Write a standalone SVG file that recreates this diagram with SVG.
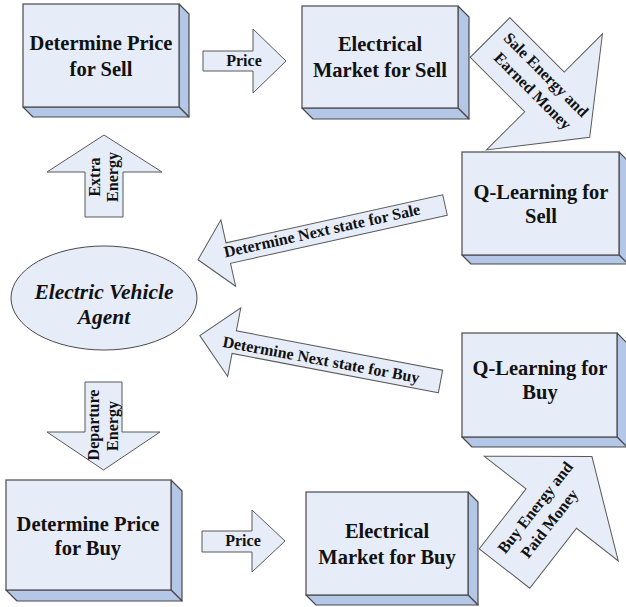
<svg xmlns="http://www.w3.org/2000/svg" width="626" height="607" viewBox="0 0 626 607">
<style>
.front{fill:#e6ecf8;stroke:#4a4a4a;stroke-width:1.2}
.side{fill:#b4c7e7;stroke:#4a4a4a;stroke-width:1.2;stroke-linejoin:round}
.arr{fill:#e6ecf8;stroke:#595959;stroke-width:1}
.t{font-family:"Liberation Serif","Times New Roman",serif;font-weight:bold;fill:#111;text-anchor:middle}
.big{font-size:20.5px}
.sm{font-size:16px}
.it{font-style:italic;font-size:21.5px}
</style>
<rect width="626" height="607" fill="#fff"/>

<g id="det-sell">
<polygon class="side" points="179,4 189,14 189,117 179,107"/>
<polygon class="side" points="23,107 179,107 189,117 33,117"/>
<rect class="front" x="23" y="4" width="156" height="103"/>
<text class="t big" x="101" y="50">Determine Price</text>
<text class="t big" x="101" y="76">for Sell</text>
</g>

<g id="market-sell">
<polygon class="side" points="458,6 469,17 469,119 458,108"/>
<polygon class="side" points="302,108 458,108 469,119 313,119"/>
<rect class="front" x="302" y="6" width="156" height="102"/>
<text class="t big" x="380" y="51">Electrical</text>
<text class="t big" x="380" y="77">Market for Sell</text>
</g>

<g id="q-sell">
<polygon class="side" points="619,152 628,161 628,264 619,255"/>
<polygon class="side" points="462,255 619,255 628,264 471,264"/>
<rect class="front" x="462" y="152" width="157" height="103"/>
<text class="t big" x="541" y="199">Q-Learning for</text>
<text class="t big" x="541" y="223">Sell</text>
</g>

<g id="q-buy">
<polygon class="side" points="617,333 627,343 627,447 617,437"/>
<polygon class="side" points="462,437 617,437 627,447 472,447"/>
<rect class="front" x="462" y="333" width="155" height="104"/>
<text class="t big" x="540" y="375">Q-Learning for</text>
<text class="t big" x="540" y="399">Buy</text>
</g>

<g id="det-buy">
<polygon class="side" points="171,480 182,491 182,601 171,590"/>
<polygon class="side" points="6,590 171,590 182,601 17,601"/>
<rect class="front" x="6" y="480" width="165" height="110"/>
<text class="t big" x="88" y="531">Determine Price</text>
<text class="t big" x="88" y="555">for Buy</text>
</g>

<g id="market-buy">
<polygon class="side" points="468,492 478,502 478,605 468,595"/>
<polygon class="side" points="306,595 468,595 478,605 316,605"/>
<rect class="front" x="306" y="492" width="162" height="103"/>
<text class="t big" x="387" y="538">Electrical</text>
<text class="t big" x="387" y="564">Market for Buy</text>
</g>

<g id="ev-agent">
<ellipse class="front" cx="104" cy="298" rx="93" ry="52" style="stroke-width:1"/>
<text class="t it" x="104" y="299">Electric Vehicle</text>
<text class="t it" x="104" y="324">Agent</text>
</g>

<g id="connectors">
<polygon class="arr" points="203,51 253,51 253,29 286,61 253,93 253,71 203,71"/>
<text class="t sm" x="244" y="66">Price</text>

<polygon class="arr" points="202,531 252,531 252,510 285,541 252,572 252,552 202,552"/>
<text class="t sm" x="243" y="546">Price</text>

<polygon class="arr" points="85,217 85,172 47,172 104,135 162,172 123,172 123,217"/>
<text class="t sm" transform="translate(100,177) rotate(-90)">Extra</text>
<text class="t sm" transform="translate(118,177) rotate(-90)">Energy</text>

<polygon class="arr" points="85,382 122,382 122,432 160,432 103.5,470 47,432 85,432"/>
<text class="t sm" transform="translate(99,425) rotate(-90)">Departure</text>
<text class="t sm" transform="translate(118,426) rotate(-90)">Energy</text>

<g transform="translate(490,37.5) rotate(45)">
<polygon class="arr" points="0,-28 77,-28 77,-82 141,0 77,82 77,28 0,28"/>
<text class="t sm" x="66" y="-8">Sale Energy and</text>
<text class="t sm" x="68" y="13">Earned Money</text>
</g>

<g transform="translate(445,205) rotate(167.5)">
<polygon class="arr" points="0,-10.5 222,-10.5 222,-34 253,0 222,34 222,10.5 0,10.5"/>
</g>
<text class="t sm" transform="translate(322,231) rotate(-12.5)" x="0" y="5">Determine Next state for Sale</text>

<g transform="translate(440.5,381.5) rotate(190.8)">
<polygon class="arr" points="0,-11.5 210,-11.5 210,-35 245,0 210,35 210,11.5 0,11.5"/>
</g>
<text class="t sm" transform="translate(321,360) rotate(10.5)" x="0" y="5">Determine Next state for Buy</text>

<g transform="translate(504.5,568.5) rotate(-52)">
<polygon class="arr" points="0,-32 76,-32 76,-85 142,0 76,85 76,32 0,32"/>
<text class="t sm" x="67" y="-8">Buy Energy and</text>
<text class="t sm" x="63" y="13">Paid Money</text>
</g>
</g>
</svg>
